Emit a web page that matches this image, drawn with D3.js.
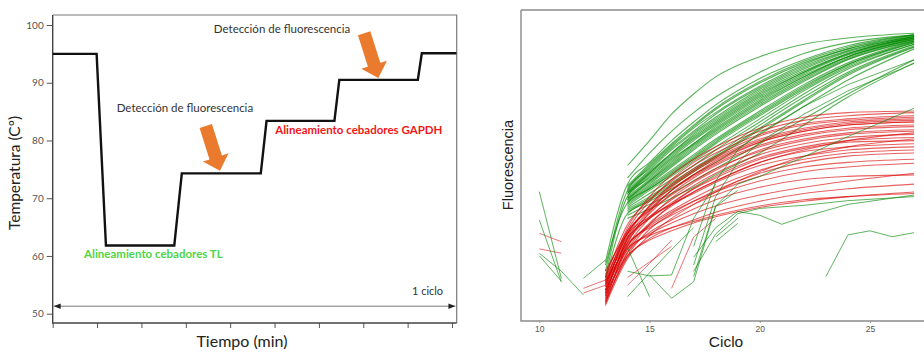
<!DOCTYPE html>
<html>
<head>
<meta charset="utf-8">
<script src="https://cdn.jsdelivr.net/npm/d3@7"></script>
<style>
  body { margin: 0; background: #fff; }
</style>
</head>
<body>
<div id="chart"></div>
<script>
// ---- Panel izquierdo: perfil de temperatura de un ciclo ----
const tiempo = [0, 0.99, 1.2, 2.74, 2.91, 4.69, 4.82, 6.35, 6.46, 8.23, 8.32, 9.1];
const temperatura = [95, 95, 61.8, 61.8, 74.3, 74.3, 83.4, 83.4, 90.5, 90.5, 95.1, 95.1];
const tempTicks = [50, 60, 70, 80, 90, 100];
const tiempoTicks = [0, 1, 2, 3, 4, 5, 6, 7, 8, 9];

// ---- Panel derecho: curvas de fluorescencia por ciclo ----
const ciclos = [13, 14, 15, 16, 17, 18, 20, 22, 24, 27];
const cicloTicks = [10, 15, 20, 25];

const curvasVerdes = [
  [null, 50, 58, 66.5, 73, 78.5, 85, 89, 91, 92.5],
  [null, 46, 54, 61, 67, 72, 80, 86, 89.5, 92],
  [19, 44, 51, 58, 64, 69.5, 78, 84, 88.5, 92],
  [null, 43, 50, 56.5, 62.5, 68, 76.5, 83, 87.5, 91.5],
  [16, 42, 49, 55.5, 61, 66.5, 75, 82, 87, 91.5],
  [null, 41.5, 48, 54, 60, 65, 74, 81, 86.5, 91],
  [null, 41, 47, 53, 58.5, 63.5, 72.5, 80, 86, 91],
  [14, 40, 46, 52, 57, 62.5, 71.5, 79, 85, 90.5],
  [null, 39.5, 45, 50.5, 56, 61, 70, 78, 84.5, 90.5],
  [null, 39, 44, 49.5, 55, 60, 69, 77, 84, 90],
  [null, 38.5, 43.5, 48.5, 53.5, 58.5, 67.5, 76, 83, 90],
  [18, 38, 42.5, 47.5, 52.5, 57.5, 66.5, 75, 82.5, 89.5],
  [null, 37, 42, 46.5, 51.5, 56, 65, 74, 81.5, 89],
  [null, 36.5, 41, 45.5, 50, 55, 64, 73, 81, 89],
  [null, 36, 40, 44.5, 49, 53.5, 63, 72, 80, 88.5],
  [null, 35, 39, 43.5, 48, 52.5, 61.5, 70.5, 79, 88],
  [13, 34.5, 38.5, 42.5, 47, 51, 60, 69, 77.5, 87.5],
  [null, 41, 47.5, 54, 59.5, 64.5, 73.5, 80.5, 86, 91.5],
  [null, 43.5, 50.5, 57, 63, 68.5, 77, 83.5, 88, 92],
  [null, 39, 45, 51, 56.5, 61.5, 70.5, 78.5, 85, 90.5],
  [null, 37.5, 42.5, 47, 52, 57, 66, 74.5, 82, 89.5],
  [null, 34, 37.5, 41, 45, 49, 57, 65, 73, 84],
  [null, 33, 36, 39.5, 43, 47, 54, 63, 72, 83],
  [null, 42.5, 49.5, 56, 62, 67, 75.5, 82.5, 87.5, 91.8],
  [null, 40.5, 46.5, 52.5, 58, 63, 72, 79.5, 85.5, 91],
  [null, 38, 43, 48, 53, 58, 67, 75.5, 82.5, 89.8],
  [null, 35.5, 39.5, 44, 48.5, 53, 62, 71, 79.5, 88.2],
  [null, 40, 45.5, 51.5, 57, 62, 71, 78.5, 85, 90.8],
  [null, 41.5, 47.5, 53.5, 59, 64, 73, 80, 85.8, 91.2],
  [null, 39.5, 44.5, 50, 55.5, 60.5, 69.5, 77.5, 84.2, 90.2],
  [null, 42, 48.5, 55, 60.5, 65.5, 74.5, 81.5, 86.8, 91.5]
];

const curvasRojas = [
  [12, 30, 40, 47, 52, 56, 62, 65.5, 67, 67.5],
  [10, 29, 38.5, 45.5, 51, 55, 61, 64.5, 66, 67],
  [14, 31, 39, 45, 50, 54, 60, 63.5, 65, 66],
  [8, 27, 37, 44, 49, 53, 59.5, 63, 64.5, 65.5],
  [11, 28, 37, 43.5, 48.5, 52.5, 58.5, 62, 64, 65],
  [6, 25, 35, 42, 47, 51, 57.5, 61, 63, 64],
  [13, 28.5, 36, 42, 46.5, 50.5, 56.5, 60, 62, 63],
  [9, 26, 34.5, 41, 46, 50, 56, 59.5, 61.5, 62.5],
  [7, 24, 33, 39.5, 44.5, 48.5, 55, 58.5, 60.5, 61.5],
  [15, 29, 35.5, 40.5, 45, 49, 54.5, 58, 60, 61],
  [10, 25.5, 33.5, 39, 43.5, 47.5, 53.5, 57, 59, 60],
  [5.5, 22, 31, 37.5, 42.5, 46.5, 52.5, 56, 58, 59],
  [12, 26.5, 33, 38, 42.5, 46, 52, 55.5, 57.5, 58],
  [8, 23, 31.5, 37, 41.5, 45, 51, 54.5, 56, 57],
  [16, 28, 33.5, 37.5, 41, 44.5, 50, 53, 55, 56],
  [9.5, 24, 31, 35.5, 39.5, 43, 48.5, 52, 54, 55],
  [6.5, 21, 29.5, 34.5, 38.5, 42, 47.5, 51, 53, 54],
  [11, 24.5, 30.5, 35, 38.5, 41.5, 46.5, 49.5, 51, 52],
  [13, 25, 30, 34, 37.5, 40.5, 45, 48, 49.5, 50.7],
  [7.5, 22, 28.5, 32.5, 36, 39, 43, 45.5, 46.5, 47],
  [10, 23, 28, 31.5, 34.5, 37, 40.5, 43, 45, 47.5],
  [6, 20.5, 26.5, 30, 32.5, 35, 38.5, 41, 42.5, 44],
  [12.5, 23.5, 27.5, 30, 32, 34, 37, 39, 40, 41],
  [9, 21, 26, 29, 31.5, 33.5, 36.5, 38.5, 40, 41.5],
  [14, 27, 33, 37.5, 41.5, 45, 51, 55, 58, 60.5],
  [5, 20, 27.5, 33, 37.5, 41.5, 48, 53, 56, 58.5],
  [11.5, 28, 36.5, 43, 48, 52, 58, 61.5, 63.5, 64.5],
  [8.5, 26.5, 35.5, 42, 47, 51.5, 57.5, 61, 63, 64]
];

// pares [ciclo, valor] para trazos sueltos
const trazosVerdes = [
  [[10, 41.6], [11, 13.7]],
  [[10, 32.5], [11, 12.5]],
  [[10, 21.8], [11, 16], [12, 8.4]],
  [[10, 21], [11, 12.8]],
  [[12, 13.7], [13, 19.6]],
  [[14, 7.8], [15, 15.5], [16, 23], [17, 30]],
  [[14, 23.5], [15, 7.8]],
  [[15, 14.8], [16, 7.3], [17, 12.6], [18, 36.8], [19, 42]],
  [[14, 16], [15, 14.5], [16, 14.8], [17, 33], [18, 44]],
  [[17, 14.3], [18, 37], [19, 44], [20, 46.5], [22, 52.8], [24, 59.3], [27, 68.4]],
  [[17, 24], [18, 45], [19, 55], [20, 60.5], [22, 69], [24, 76], [27, 84]],
  [[17, 18], [18, 40], [19, 51], [20, 57.5], [22, 66.5], [24, 74], [27, 82.8]],
  [[17, 20.5], [18, 30], [19, 35.2], [20, 34], [21, 31.1], [22, 33.5], [24, 37.5], [27, 40.5]],
  [[17, 16], [18, 28], [19, 34.5], [20, 36.2], [22, 37.2], [24, 38.7], [27, 40]],
  [[18, 25.5], [19, 31.4]],
  [[18, 27], [19, 33]],
  [[23, 14.3], [24, 27.7], [25, 29], [26, 27.1], [27, 28.4]]
];

const trazosRojos = [
  [[10, 28.2], [11, 25.5]],
  [[10, 23.2], [11, 21.8]],
  [[12, 10.5], [13, 13.2]],
  [[12, 9], [13, 11.5]],
  [[14, 11.5], [15, 18.5], [16, 26]],
  [[16, 10.5], [17, 27], [18, 33]],
  [[14, 14], [15, 19], [16, 24]]
];

const svg = d3.select("#chart")
  .append("svg")
  .attr("width", 924)
  .attr("height", 352);

// ================= Panel izquierdo =================
const xT = d3.scaleLinear().domain([0, 9]).range([52.7, 452]);
const yT = d3.scaleLinear().domain([50, 100]).range([313.7, 25]);
const lf = { left: 52.7, right: 456.7, top: 15, bottom: 323 };
const fuente = "Lato, 'Open Sans', sans-serif";

// marco gris arriba y derecha
svg.append("path")
  .attr("d", `M${lf.left},${lf.top}H${lf.right}V${lf.bottom}`)
  .attr("fill", "none")
  .attr("stroke", "#7a7a7a")
  .attr("stroke-width", 1.2);

// Eje Y
const gyT = svg.append("g")
  .attr("transform", `translate(${lf.left},0)`)
  .call(d3.axisLeft(yT).tickValues(tempTicks).tickSize(6).tickPadding(3));
gyT.select(".domain").remove();
gyT.selectAll("line").attr("stroke", "#555");
gyT.selectAll("text")
  .style("font-family", fuente)
  .style("font-size", "10px")
  .style("fill", "#555");

// Eje X (sin etiquetas)
const gxT = svg.append("g")
  .attr("transform", `translate(0,${lf.bottom})`)
  .call(d3.axisBottom(xT).tickValues(tiempoTicks).tickSize(5).tickFormat(""));
gxT.select(".domain").remove();
gxT.selectAll("line").attr("stroke", "#555");

svg.append("path")
  .attr("d", `M${lf.left},${lf.top}V${lf.bottom}H${lf.right}`)
  .attr("fill", "none")
  .attr("stroke", "#444")
  .attr("stroke-width", 1.4);

// Perfil de temperatura
svg.append("path")
  .datum(d3.zip(tiempo, temperatura))
  .attr("fill", "none")
  .attr("stroke", "#111")
  .attr("stroke-width", 2.4)
  .attr("d", d3.line().x(d => xT(d[0])).y(d => yT(d[1])));

// Flecha doble "1 ciclo"
const defs = svg.append("defs");
["inicio", "fin"].forEach((id, i) => {
  defs.append("marker")
    .attr("id", "punta-" + id)
    .attr("viewBox", "0 0 10 10")
    .attr("refX", i === 0 ? 0 : 10)
    .attr("refY", 5)
    .attr("markerWidth", 7)
    .attr("markerHeight", 7)
    .attr("markerUnits", "userSpaceOnUse")
    .attr("orient", "auto")
    .append("path")
    .attr("d", i === 0 ? "M10,1L0,5L10,9Z" : "M0,1L10,5L0,9Z")
    .attr("fill", "#222");
});
svg.append("line")
  .attr("x1", xT(0) + 1).attr("x2", xT(9.1) - 1)
  .attr("y1", yT(51.3)).attr("y2", yT(51.3))
  .attr("stroke", "#777")
  .attr("stroke-width", 1)
  .attr("marker-start", "url(#punta-inicio)")
  .attr("marker-end", "url(#punta-fin)");

svg.append("text")
  .attr("x", xT(8.8)).attr("y", yT(53.3))
  .attr("text-anchor", "end")
  .style("font-family", fuente)
  .style("font-size", "11px")
  .style("fill", "#333")
  .text("1 ciclo");

// Flechas naranjas
function flecha(cx, cy) {
  svg.append("path")
    .attr("transform", `translate(${xT(cx)},${yT(cy)}) rotate(-17.6)`)
    .attr("d", "M0,0L-13.5,-14L-6.5,-14L-6.5,-47L6.5,-47L6.5,-14L13.5,-14Z")
    .attr("fill", "#ea7b2e");
}
flecha(3.77, 74.75);
flecha(7.34, 90.8);

const anotaciones = [
  { x: 2.98, y: 84.9, t: "Detección de fluorescencia", c: "#333", b: "normal" },
  { x: 5.17, y: 98.6, t: "Detección de fluorescencia", c: "#333", b: "normal" },
  { x: 6.9, y: 81.1, t: "Alineamiento cebadores GAPDH", c: "#f01818", b: "bold" },
  { x: 2.27, y: 59.6, t: "Alineamiento cebadores TL", c: "#4fd44a", b: "bold" }
];
svg.selectAll("text.anot")
  .data(anotaciones)
  .enter()
  .append("text")
  .attr("class", "anot")
  .attr("x", d => xT(d.x))
  .attr("y", d => yT(d.y))
  .attr("text-anchor", "middle")
  .style("font-family", fuente)
  .style("font-size", "11.5px")
  .style("font-weight", d => d.b)
  .style("fill", d => d.c)
  .text(d => d.t);

svg.append("text")
  .attr("transform", `translate(20,173) rotate(-90)`)
  .attr("text-anchor", "middle")
  .style("font-family", fuente)
  .style("font-size", "15.5px")
  .style("fill", "#222")
  .text("Temperatura (Cº)");

svg.append("text")
  .attr("x", 242).attr("y", 347)
  .attr("text-anchor", "middle")
  .style("font-family", fuente)
  .style("font-size", "16px")
  .style("fill", "#222")
  .text("Tiempo (min)");

// ================= Panel derecho =================
const xF = d3.scaleLinear().domain([10, 25]).range([539.3, 870]);
const yF = d3.scaleLinear().domain([0, 100]).range([321, 10]);
const rf = { left: 521, right: 924, top: 10, bottom: 321 };
const sans = "'Liberation Sans', Arial, sans-serif";

svg.append("line")
  .attr("x1", rf.left).attr("x2", rf.right)
  .attr("y1", rf.top).attr("y2", rf.top)
  .attr("stroke", "#8a8a8a").attr("stroke-width", 1.3);

const gxF = svg.append("g")
  .attr("transform", `translate(0,${rf.bottom})`)
  .call(d3.axisBottom(xF).tickValues(cicloTicks).tickSize(2).tickPadding(3));
gxF.select(".domain").remove();
gxF.selectAll("line").attr("stroke", "#999");
gxF.selectAll("text")
  .style("font-family", sans)
  .style("font-size", "8.5px")
  .style("fill", "#555");

svg.append("path")
  .attr("d", `M${rf.left},${rf.top}V${rf.bottom}H${rf.right}`)
  .attr("fill", "none")
  .attr("stroke", "#8a8a8a")
  .attr("stroke-width", 1.4);

const curva = d3.line()
  .defined(d => d[1] != null)
  .x(d => xF(d[0]))
  .y(d => yF(d[1]))
  .curve(d3.curveMonotoneX);

const trazo = d3.line()
  .x(d => xF(d[0]))
  .y(d => yF(d[1]));

const curvas = svg.append("g").attr("fill", "none");

curvas.selectAll("path.verde")
  .data(curvasVerdes)
  .enter()
  .append("path")
  .attr("class", "verde")
  .attr("d", d => curva(d3.zip(ciclos, d)))
  .attr("stroke", "#008a00")
  .attr("stroke-width", 1.1)
  .attr("stroke-opacity", 0.65);

curvas.selectAll("path.roja")
  .data(curvasRojas)
  .enter()
  .append("path")
  .attr("class", "roja")
  .attr("d", d => curva(d3.zip(ciclos, d)))
  .attr("stroke", "#d80000")
  .attr("stroke-width", 1.1)
  .attr("stroke-opacity", 0.62);

curvas.selectAll("path.trazo-rojo")
  .data(trazosRojos)
  .enter()
  .append("path")
  .attr("class", "trazo-rojo")
  .attr("d", trazo)
  .attr("stroke", "#d80000")
  .attr("stroke-width", 1)
  .attr("stroke-opacity", 0.55);

curvas.selectAll("path.trazo-verde")
  .data(trazosVerdes)
  .enter()
  .append("path")
  .attr("class", "trazo-verde")
  .attr("d", trazo)
  .attr("stroke", "#0a8a0a")
  .attr("stroke-width", 1)
  .attr("stroke-opacity", 0.65);

svg.append("text")
  .attr("transform", `translate(513,165) rotate(-90)`)
  .attr("text-anchor", "middle")
  .style("font-family", sans)
  .style("font-size", "14.5px")
  .style("fill", "#222")
  .text("Fluorescencia");

svg.append("text")
  .attr("x", 726).attr("y", 347)
  .attr("text-anchor", "middle")
  .style("font-family", sans)
  .style("font-size", "15.5px")
  .style("fill", "#222")
  .text("Ciclo");
</script>
</body>
</html>
